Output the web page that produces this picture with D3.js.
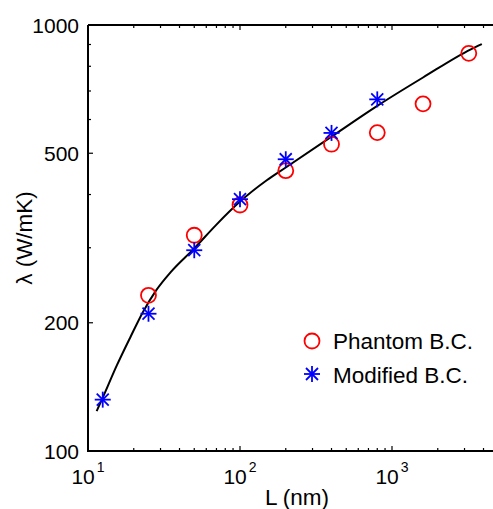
<!DOCTYPE html>
<html><head><meta charset="utf-8">
<script src="https://cdn.jsdelivr.net/npm/d3@7"></script>
<style>body{margin:0;background:#fff}svg{display:block}text{font-family:"Liberation Sans",Arial,sans-serif;fill:#000}</style>
</head><body>
<script>
// data
const phantomL = [25, 50, 100, 200, 400, 800, 1600, 3200];
const phantomK = [232, 321, 378, 455, 525, 559, 653, 858];
const modifiedL = [12.5, 25, 50, 100, 200, 400, 800];
const modifiedK = [132, 210, 296, 390, 484, 558, 669];
const fitL = [11.4, 12.4, 15.5, 19, 23, 28, 35, 50, 70, 100, 150, 200, 400, 800, 1600, 3300, 3900];
const fitK = [124, 132.5, 159, 185, 212, 238, 263, 299, 340, 385, 432, 463, 547, 646, 753, 877, 902];
const yTickLabels = [100, 200, 500, 1000];
const xTickExps = [1, 2, 3];
const legendLabels = ["Phantom B.C.", "Modified B.C."];

const W = 493, H = 509;
const svg = d3.select("body").append("svg").attr("width", W).attr("height", H);
const x = d3.scaleLog().domain([10, 5000]).range([88, 88 + 152 * Math.log10(500)]);
const y = d3.scaleLog().domain([100, 1000]).range([451, 25]);
const x0 = x.range()[0], x1 = x.range()[1], y0 = y.range()[0], y1 = y.range()[1];

// minor & major ticks
const xTicks = x.ticks();
const yTicks = y.ticks();
const g = svg.append("g");
xTicks.forEach(t => {
  const major = Math.abs(Math.log10(t) - Math.round(Math.log10(t))) < 1e-9;
  const len = major ? 5 : 3;
  g.append("line").attr("x1", x(t)).attr("x2", x(t)).attr("y1", y0).attr("y2", y0 - len).attr("stroke", "#000").attr("stroke-width", 1.2);
  g.append("line").attr("x1", x(t)).attr("x2", x(t)).attr("y1", y1).attr("y2", y1 + len).attr("stroke", "#000").attr("stroke-width", 1.2);
});
yTicks.forEach(t => {
  const major = Math.abs(Math.log10(t) - Math.round(Math.log10(t))) < 1e-9 || yTickLabels.includes(t);
  const len = major ? 5 : 3;
  g.append("line").attr("x1", x0).attr("x2", x0 + len).attr("y1", y(t)).attr("y2", y(t)).attr("stroke", "#000").attr("stroke-width", 1.2);
});
// axes lines
g.append("path").attr("d", `M${x0},${y1}V${y0}H${x1}`).attr("fill", "none").attr("stroke", "#000").attr("stroke-width", 2);
g.append("path").attr("d", `M${x0},${y1}H${x1}V${y0}`).attr("fill", "none").attr("stroke", "#000").attr("stroke-width", 2);

// tick labels
yTickLabels.forEach(v => {
  svg.append("text").attr("x", 79).attr("y", y(v)).attr("dy", "0.36em").attr("text-anchor", "end")
    .style("font-size", "21px").text(v);
});
xTickExps.forEach(e => {
  const t = svg.append("text").attr("x", x(Math.pow(10, e))).attr("y", 484).attr("text-anchor", "middle").style("font-size", "21px");
  t.append("tspan").text("10");
  t.append("tspan").attr("dy", -12).attr("dx", 2).style("font-size", "14px").text(e);
});

// axis labels
svg.append("text").attr("x", 297).attr("y", 505).attr("text-anchor", "middle").style("font-size", "22.5px").text("L (nm)");
svg.append("text").attr("transform", "translate(32,238) rotate(-90)").attr("text-anchor", "middle").style("font-size", "22.5px").text("λ (W/mK)");

// fit curve
const line = d3.line().x(d => x(d[0])).y(d => y(d[1])).curve(d3.curveMonotoneX);
svg.append("path").datum(fitL.map((l, i) => [l, fitK[i]])).attr("d", line)
  .attr("fill", "none").attr("stroke", "#000").attr("stroke-width", 2);

// markers
function star(sel, cx, cy) {
  const a = 8, b = 6;
  const gg = sel.append("g").attr("stroke", "#0000ff").attr("stroke-width", 1.8);
  gg.append("line").attr("x1", cx - a).attr("x2", cx + a).attr("y1", cy).attr("y2", cy);
  gg.append("line").attr("x1", cx).attr("x2", cx).attr("y1", cy - a).attr("y2", cy + a);
  gg.append("line").attr("x1", cx - b).attr("x2", cx + b).attr("y1", cy - b).attr("y2", cy + b);
  gg.append("line").attr("x1", cx - b).attr("x2", cx + b).attr("y1", cy + b).attr("y2", cy - b);
}
phantomL.forEach((l, i) => {
  svg.append("circle").attr("cx", x(l)).attr("cy", y(phantomK[i])).attr("r", 7.5)
    .attr("fill", "none").attr("stroke", "#ff0000").attr("stroke-width", 1.8);
});
modifiedL.forEach((l, i) => star(svg, x(l), y(modifiedK[i])));

// legend
svg.append("circle").attr("cx", 312).attr("cy", 341).attr("r", 7.5).attr("fill", "none").attr("stroke", "#ff0000").attr("stroke-width", 1.8);
star(svg, 312, 374);
svg.append("text").attr("x", 333).attr("y", 348.5).style("font-size", "22.5px").text(legendLabels[0]);
svg.append("text").attr("x", 333).attr("y", 382.5).style("font-size", "22.5px").text(legendLabels[1]);
</script>
</body></html>
